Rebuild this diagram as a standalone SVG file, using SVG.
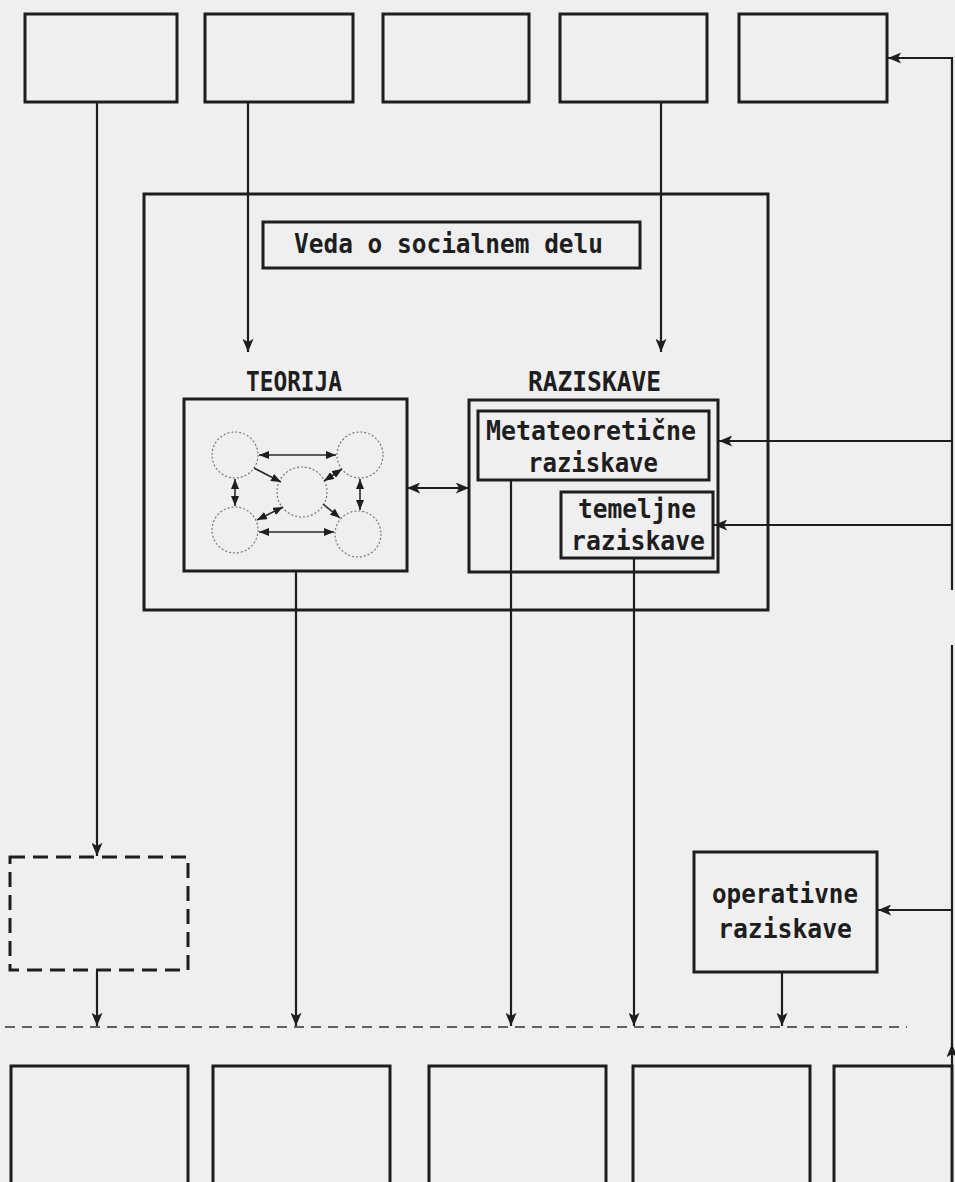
<svg xmlns="http://www.w3.org/2000/svg" width="955" height="1182" viewBox="0 0 955 1182">
<style>
.box{fill:none;stroke:#1e1e1e;stroke-width:3}
.dbox{fill:none;stroke:#1e1e1e;stroke-width:3;stroke-dasharray:15 8}
.con{fill:none;stroke:#1e1e1e;stroke-width:2.2}
.thin{fill:none;stroke:#2a2a2a;stroke-width:1.6}
.circ{fill:none;stroke:#777;stroke-width:1.2;stroke-dasharray:2 2}
.lbl{font-family:"DejaVu Sans Mono","Liberation Mono",monospace;font-size:27px;font-weight:bold;fill:#1e1e1e}
</style>
<defs>
<marker id="ah" viewBox="0 0 12 10" refX="12" refY="5" markerWidth="14" markerHeight="11" markerUnits="userSpaceOnUse" orient="auto-start-reverse"><path d="M0,0 L12,5 L0,10 L3,5 z" fill="#1e1e1e"/></marker>
<marker id="sh" viewBox="0 0 10 8" refX="10" refY="4" markerWidth="10" markerHeight="8" markerUnits="userSpaceOnUse" orient="auto-start-reverse"><path d="M0,0 L10,4 L0,8 z" fill="#1e1e1e"/></marker>
</defs>
<rect x="0" y="0" width="955" height="1182" fill="#efefef"/>

<g id="top-boxes">
<rect id="t1" class="box" x="25" y="14" width="152" height="88"/>
<rect id="t2" class="box" x="205" y="14" width="148" height="88"/>
<rect id="t3" class="box" x="383" y="14" width="146" height="88"/>
<rect id="t4" class="box" x="560" y="14" width="147" height="88"/>
<rect id="t5" class="box" x="739" y="14" width="148" height="88"/>
</g>

<g id="frame"><rect class="box" x="144" y="194" width="624" height="416"/></g>

<g id="veda">
<rect class="box" x="263" y="222" width="377" height="46"/>
<text class="lbl" x="294" y="253" textLength="309" lengthAdjust="spacingAndGlyphs">Veda o socialnem delu</text>
</g>

<g id="teorija-label"><text class="lbl" x="246" y="391" textLength="96" lengthAdjust="spacingAndGlyphs">TEORIJA</text></g>
<g id="raziskave-label"><text class="lbl" x="528" y="391" textLength="133" lengthAdjust="spacingAndGlyphs">RAZISKAVE</text></g>

<g id="teorija">
<rect class="box" x="184" y="399" width="223" height="172"/>
<circle class="circ" cx="235" cy="455" r="23"/>
<circle class="circ" cx="360" cy="455" r="23"/>
<circle class="circ" cx="302" cy="492" r="25"/>
<circle class="circ" cx="235" cy="530" r="23"/>
<circle class="circ" cx="358" cy="534" r="23"/>
<path class="thin" d="M259,455 H336" marker-start="url(#sh)" marker-end="url(#sh)"/>
<path class="thin" d="M259,532 H334" marker-start="url(#sh)" marker-end="url(#sh)"/>
<path class="thin" d="M235,479 V506" marker-start="url(#sh)" marker-end="url(#sh)"/>
<path class="thin" d="M360,479 V510" marker-start="url(#sh)" marker-end="url(#sh)"/>
<path class="thin" d="M254,468 L281,482" marker-end="url(#sh)"/>
<path class="thin" d="M283,507 L257,520" marker-start="url(#sh)" marker-end="url(#sh)"/>
<path class="thin" d="M324,481 L342,469" marker-start="url(#sh)" marker-end="url(#sh)"/>
<path class="thin" d="M323,504 L340,518" marker-end="url(#sh)"/>
</g>

<g id="raziskave">
<rect class="box" x="469" y="400" width="249" height="172"/>
</g>
<g id="metateoreticne">
<rect class="box" x="478" y="411" width="231" height="69"/>
<text class="lbl" x="486" y="440" textLength="210" lengthAdjust="spacingAndGlyphs">Metateoretične</text>
<text class="lbl" x="528" y="472" textLength="130" lengthAdjust="spacingAndGlyphs">raziskave</text>
</g>
<g id="temeljne">
<rect class="box" x="561" y="492" width="152" height="66"/>
<text class="lbl" x="578" y="518" textLength="118" lengthAdjust="spacingAndGlyphs">temeljne</text>
<text class="lbl" x="571" y="550" textLength="134" lengthAdjust="spacingAndGlyphs">raziskave</text>
</g>

<g id="dashed-box"><rect class="dbox" x="10" y="857" width="178" height="113"/></g>

<g id="operativne">
<rect class="box" x="694" y="852" width="183" height="120"/>
<text class="lbl" x="712" y="903" textLength="146" lengthAdjust="spacingAndGlyphs">operativne</text>
<text class="lbl" x="718" y="938" textLength="134" lengthAdjust="spacingAndGlyphs">raziskave</text>
</g>

<g id="bottom-boxes">
<rect id="b1" class="box" x="11" y="1066" width="177" height="140"/>
<rect id="b2" class="box" x="213" y="1066" width="177" height="140"/>
<rect id="b3" class="box" x="429" y="1066" width="177" height="140"/>
<rect id="b4" class="box" x="633" y="1066" width="177" height="140"/>
<rect id="b5" class="box" x="834" y="1066" width="118" height="140"/>
</g>

<g id="connectors">
<path class="con" d="M97,102 V856" marker-end="url(#ah)"/>
<path class="con" d="M97,971 V1026" marker-end="url(#ah)"/>
<path class="con" d="M248,102 V352" marker-end="url(#ah)"/>
<path class="con" d="M661,102 V352" marker-end="url(#ah)"/>
<path class="con" d="M407,488 H469" marker-start="url(#ah)" marker-end="url(#ah)"/>
<path class="con" d="M296,572 V1026" marker-end="url(#ah)"/>
<path class="con" d="M511,481 V1026" marker-end="url(#ah)"/>
<path class="con" d="M634,559 V1026" marker-end="url(#ah)"/>
<path class="con" d="M782,973 V1026" marker-end="url(#ah)"/>
<path class="con" d="M952,1066 V1044" marker-end="url(#ah)"/>
<path class="con" d="M952,1046 V645"/>
<path class="con" d="M952,590 V58 H888" marker-end="url(#ah)"/>
<path class="con" d="M952,441 H719" marker-end="url(#ah)"/>
<path class="con" d="M952,525 H714" marker-end="url(#ah)"/>
<path class="con" d="M952,910 H878" marker-end="url(#ah)"/>
<path fill="none" stroke="#333" stroke-width="1.6" stroke-dasharray="10 7" d="M5,1027 H907"/>
</g>
</svg>
